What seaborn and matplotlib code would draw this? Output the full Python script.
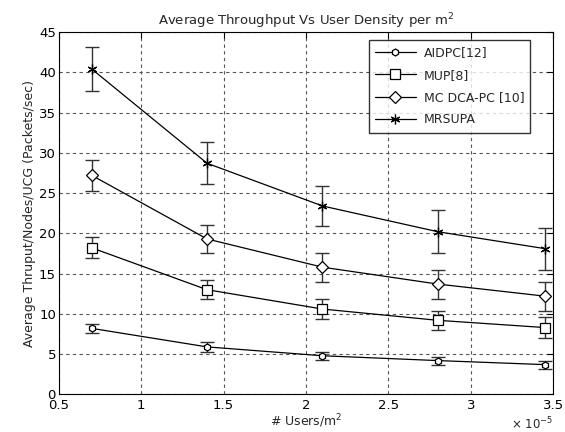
import numpy as np
import pandas as pd
import matplotlib
matplotlib.use("Agg")
import matplotlib.pyplot as plt
import seaborn as sns
from matplotlib.ticker import FuncFormatter

# user density (users per m^2)
density = [0.7e-5, 1.4e-5, 2.1e-5, 2.8e-5, 3.45e-5]

aidpc = [8.2, 5.9, 4.8, 4.2, 3.7]
aidpc_err = [0.6, 0.6, 0.5, 0.5, 0.5]
mup = [18.2, 13.0, 10.6, 9.2, 8.3]
mup_err = [1.3, 1.2, 1.2, 1.2, 1.3]
mcdca = [27.2, 19.3, 15.8, 13.7, 12.2]
mcdca_err = [1.9, 1.7, 1.8, 1.8, 1.8]
mrsupa = [40.4, 28.7, 23.4, 20.2, 18.1]
mrsupa_err = [2.7, 2.6, 2.5, 2.7, 2.6]

series = ["AIDPC[12]", "MUP[8]", "MC DCA-PC [10]", "MRSUPA"]
values = [aidpc, mup, mcdca, mrsupa]
errors = [aidpc_err, mup_err, mcdca_err, mrsupa_err]
markers = {"AIDPC[12]": "h", "MUP[8]": "s", "MC DCA-PC [10]": "D", "MRSUPA": (6, 2, 0)}
msizes = {"AIDPC[12]": 5, "MUP[8]": 7, "MC DCA-PC [10]": 6, "MRSUPA": 7}

rows = []
for name, vals, errs in zip(series, values, errors):
    for x, v, e in zip(density, vals, errs):
        rows.append({"x": x, "y": v, "err": e, "series": name})
df = pd.DataFrame(rows)

sns.set_style("white")
plt.rcParams["font.family"] = ["DejaVu Sans"]

fig = plt.figure(figsize=(5.65, 4.32), dpi=100)
ax = fig.add_axes([0.104, 0.087, 0.875, 0.839])

for name in series:
    sub = df[df["series"] == name]
    ax.errorbar(sub["x"], sub["y"], yerr=sub["err"], fmt="none",
                ecolor="#333333", elinewidth=1.0, capsize=5, capthick=1.0, zorder=2)
    sns.lineplot(data=sub, x="x", y="y", ax=ax, color="black", linewidth=0.9,
                 marker=markers[name], markersize=msizes[name],
                 markerfacecolor="white", markeredgecolor="black",
                 markeredgewidth=0.9, label=name, zorder=3)

ax.set_xlim(0.5e-5, 3.5e-5)
ax.set_ylim(0, 45)
ax.set_xticks(np.arange(0.5e-5, 3.51e-5, 0.5e-5))
ax.set_yticks(np.arange(0, 46, 5))
ax.xaxis.set_major_formatter(FuncFormatter(lambda v, p: f"{v * 1e5:g}"))
ax.text(1.0, -0.058, r"$\times\ 10^{-5}$", transform=ax.transAxes,
        ha="right", va="top", fontsize=8.5)

ax.grid(True, linestyle=(0, (3, 3)), color="#555555", linewidth=0.8)
ax.tick_params(direction="in", length=4, labelsize=9.5, top=True, right=True,
               colors="black", pad=2)
ax.tick_params(axis="x", pad=3.5)
for sp in ax.spines.values():
    sp.set_color("black")
    sp.set_linewidth(0.8)

ax.set_title("Average Throughput Vs User Density per m$^2$", fontsize=9.5, pad=5)
ax.set_xlabel("# Users/m$^2$", fontsize=9, labelpad=0)
ax.set_ylabel("Average Thruput/Nodes/UCG (Packets/sec)", fontsize=9, labelpad=2)

leg = ax.legend(loc="upper right", bbox_to_anchor=(0.954, 0.978), borderaxespad=0,
                fontsize=9, frameon=True, fancybox=False, edgecolor="black",
                handlelength=3.3, handletextpad=0.6, borderpad=0.5,
                labelspacing=0.75)
leg.get_frame().set_linewidth(1.0)

fig.savefig("out.png", dpi=100)
